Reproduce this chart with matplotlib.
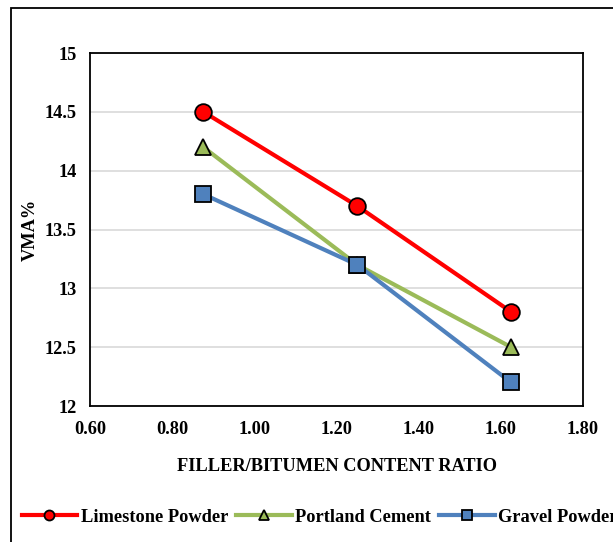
import matplotlib.pyplot as plt
from matplotlib.patches import Rectangle

# data
ratio = [0.875, 1.25, 1.625]
limestone = [14.5, 13.7, 12.8]
portland = [14.2, 13.2, 12.5]
gravel = [13.8, 13.2, 12.2]

plt.rcParams['font.family'] = ['Liberation Serif', 'DejaVu Serif']
plt.rcParams['font.weight'] = 'bold'

fig = plt.figure(figsize=(6.13, 5.42), dpi=100)
ax = fig.add_axes([0.1476, 0.2509, 0.8034, 0.6513])

# chart area border
fig.patches.append(Rectangle((11 / 613, -0.02), 1.0, 1 - 8 / 542 + 0.02,
                             transform=fig.transFigure, fill=False,
                             edgecolor='black', linewidth=1.3))

ax.plot(ratio, limestone, color='#FF0000', linewidth=3, marker='o', markersize=12,
        markerfacecolor='#FF0000', markeredgecolor='black', markeredgewidth=1.3,
        label='Limestone Powder', zorder=3)
ax.plot(ratio, portland, color='#9BBB59', linewidth=3, marker='^', markersize=11,
        markerfacecolor='#9BBB59', markeredgecolor='black', markeredgewidth=1.3,
        label='Portland Cement', zorder=3)
ax.plot(ratio, gravel, color='#4F81BD', linewidth=3, marker='s', markersize=11,
        markerfacecolor='#4F81BD', markeredgecolor='black', markeredgewidth=1.3,
        label='Gravel Powder', zorder=3)

ax.set_xlim(0.6, 1.8)
ax.set_ylim(12, 15)
ax.set_xticks([0.6, 0.8, 1.0, 1.2, 1.4, 1.6, 1.8])
ax.set_xticklabels(['0.60', '0.80', '1.00', '1.20', '1.40', '1.60', '1.80'])
ax.set_yticks([12, 12.5, 13, 13.5, 14, 14.5, 15])
ax.set_yticklabels(['12', '12.5', '13', '13.5', '14', '14.5', '15'])
ax.tick_params(length=0, labelsize=13.2)
ax.tick_params(axis='x', pad=11)
ax.tick_params(axis='y', pad=10)
ax.grid(axis='y', color='#D9D9D9', linewidth=1.2)
ax.set_axisbelow(True)
for s in ax.spines.values():
    s.set_linewidth(1.3)

ax.set_xlabel('FILLER/BITUMEN CONTENT RATIO', fontsize=13.2, fontweight='bold', labelpad=14)
ax.set_ylabel('VMA%', fontsize=13.2, fontweight='bold', labelpad=4)

ax.legend(loc='center left', bbox_to_anchor=(-0.14, -0.315), ncol=3, frameon=False,
          fontsize=13.2, handlelength=3.05, handletextpad=0.17, columnspacing=0.45,
          borderaxespad=0, borderpad=0, markerscale=0.6)

fig.savefig('out.png', dpi=100)
